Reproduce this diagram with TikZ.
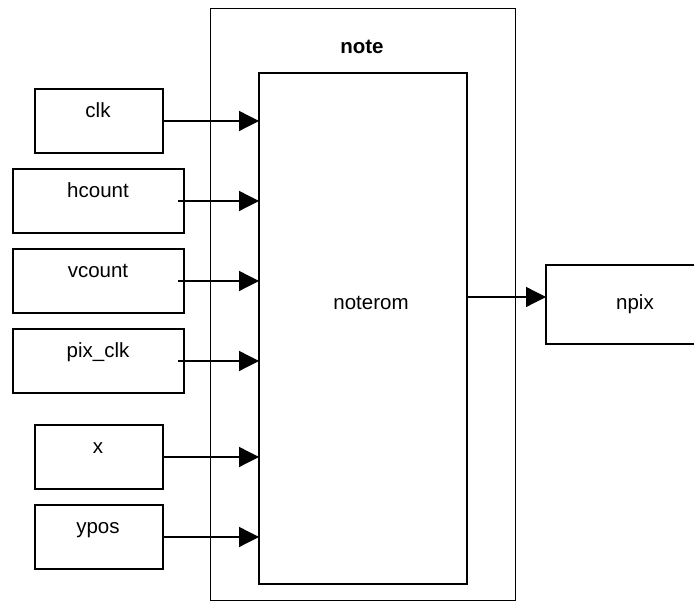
\documentclass[tikz,border=0pt]{standalone}
\usepackage{fontspec}
\setmainfont{Liberation Sans}
\usetikzlibrary{arrows.meta}
\begin{document}
\begin{tikzpicture}[x=1pt,y=-1pt,
  box/.style={draw, line width=1.3pt, inner sep=0pt, outer sep=0pt},
  frame/.style={draw, line width=1pt, inner sep=0pt, outer sep=0pt},
  txt/.style={inner sep=0pt, anchor=base, font=\fontsize{20.5}{24}\selectfont},
  arr/.style={line width=1.3pt, -{Triangle[length=20pt,width=20pt]}}]
\useasboundingbox (0,0) rectangle (694,601);

% outer block and inner ROM
\node[frame, minimum width=305pt, minimum height=591pt] (note) at (362.5,304.5) {};
\node[txt, font=\fontsize{20.5}{24}\selectfont\bfseries] (notelbl) at (362,54) {note};
\node[box, minimum width=208pt, minimum height=511pt] (noterom) at (363,328.5) {};
\node[txt] (romlbl) at (371,310) {noterom};

% input ports
\node[box, minimum width=128pt, minimum height=64pt] (clk) at (99,121) {};
\node[txt] (clklbl) at (98,118) {clk};
\node[box, minimum width=171pt, minimum height=64pt] (hcount) at (98.5,201) {};
\node[txt] (hcountlbl) at (98,198) {hcount};
\node[box, minimum width=171pt, minimum height=64pt] (vcount) at (98.5,281) {};
\node[txt] (vcountlbl) at (98,278) {vcount};
\node[box, minimum width=171pt, minimum height=64pt] (pixclk) at (98.5,361) {};
\node[txt] (pixclklbl) at (98,358) {pix\_clk};
\node[box, minimum width=128pt, minimum height=64pt] (x) at (99,457) {};
\node[txt] (xlbl) at (98,454) {x};
\node[box, minimum width=128pt, minimum height=64pt] (ypos) at (99,537) {};
\node[txt] (yposlbl) at (98,534) {ypos};

% output port
\node[box, minimum width=178pt, minimum height=79pt] (npix) at (635,304.5) {};
\node[txt] (npixlbl) at (635,310) {npix};

% connections
\draw[arr] (clk.east) -- (clk.east -| noterom.west);
\draw[arr] ([xshift=-6pt]hcount.east) -- (hcount.east -| noterom.west);
\draw[arr] ([xshift=-6pt]vcount.east) -- (vcount.east -| noterom.west);
\draw[arr] ([xshift=-6pt]pixclk.east) -- (pixclk.east -| noterom.west);
\draw[arr] (x.east) -- (x.east -| noterom.west);
\draw[arr] (ypos.east) -- (ypos.east -| noterom.west);
\coordinate (out) at (467,297);
\draw[arr] (out -| noterom.east) -- (out -| npix.west);
\end{tikzpicture}
\end{document}
